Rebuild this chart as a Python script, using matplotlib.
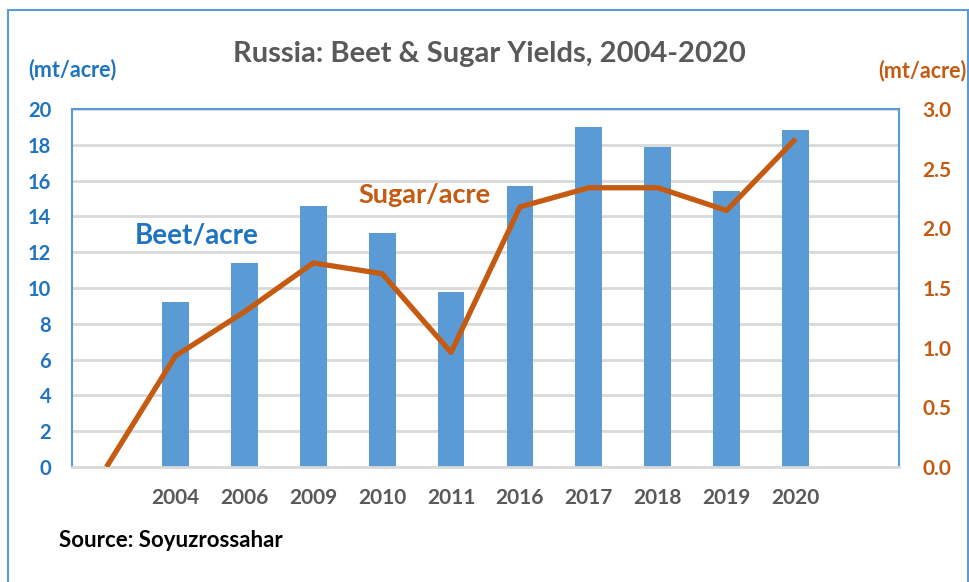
import matplotlib
matplotlib.use("Agg")
import matplotlib.pyplot as plt
from matplotlib.transforms import Bbox
import numpy as np

categories = ["", "2004", "2006", "2009", "2010", "2011", "2016", "2017", "2018", "2019", "2020", ""]
beet_per_acre = [np.nan, 9.2, 11.4, 14.6, 13.05, 9.75, 15.7, 19.0, 17.85, 15.4, 18.8, np.nan]
sugar_per_acre = [0.0, 0.93, 1.30, 1.71, 1.62, 0.96, 2.18, 2.34, 2.34, 2.15, 2.75, np.nan]
left_ticks = [0, 2, 4, 6, 8, 10, 12, 14, 16, 18, 20]
right_ticks = [0.0, 0.5, 1.0, 1.5, 2.0, 2.5, 3.0]

BLUE_BAR = "#5B9BD5"
BLUE_TXT = "#1F74C0"
ORANGE = "#C55A11"
GRAY_TXT = "#595959"
GRID = "#D9D9D9"
FONT = "Lato"

fig = plt.figure(figsize=(9.69, 5.82), dpi=100)
ax = fig.add_axes([72/969, 1-467/582, (899-72)/969, (467-109)/582])
x = np.arange(len(categories))

ax.bar(x, beet_per_acre, width=0.39, color=BLUE_BAR, zorder=2)
ax.set_xlim(-0.5, len(categories)-0.5)
ax.set_ylim(0, 20)
ax.set_yticks(left_ticks)
ax.set_yticklabels([str(t) for t in left_ticks], color=BLUE_TXT, fontsize=14.5,
                   fontweight="bold", family=FONT)
ax.set_xticks(x)
ax.set_xticklabels(categories, color=GRAY_TXT, fontsize=15, fontweight="bold", family=FONT)
ax.tick_params(axis="both", length=0)
ax.tick_params(axis="x", pad=15)
ax.tick_params(axis="y", pad=15)
ax.grid(axis="y", color=GRID, linewidth=2, zorder=0)
ax.set_axisbelow(True)
for s in ["left", "top", "right"]:
    ax.spines[s].set_color(BLUE_BAR)
    ax.spines[s].set_linewidth(1.5)
ax.spines["bottom"].set_color(GRID)
ax.spines["bottom"].set_linewidth(2)

ax2 = ax.twinx()
ax2.plot(x, sugar_per_acre, color=ORANGE, linewidth=3.8, solid_capstyle="butt", zorder=3)
ax2.set_ylim(0, 3.0)
ax2.set_yticks(right_ticks)
ax2.set_yticklabels([f"{t:.1f}" for t in right_ticks], color=ORANGE, fontsize=15,
                    fontweight="bold", family=FONT)
ax2.tick_params(axis="y", length=0, pad=17)
for s in ["left", "top", "right", "bottom"]:
    ax2.spines[s].set_visible(False)

# titles and labels
fig.text(489.5/969, 1-62/582, "Russia: Beet & Sugar Yields, 2004-2020", ha="center", va="baseline",
         color=GRAY_TXT, fontsize=21, fontweight="bold", family=FONT)
fig.text(28/969, 1-76/582, "(mt/acre)", ha="left", va="baseline", color=BLUE_TXT,
         fontsize=15.5, fontweight="bold", family=FONT)
rt = fig.text(878/969, 1-77/582, "(mt/acre)", ha="left", va="baseline", color=ORANGE,
              fontsize=15.5, fontweight="bold", family=FONT)
rt.set_clip_on(True)
rt.set_clip_box(Bbox.from_extents(0, 0, 966, 582))
fig.text(135/969, 1-243/582, "Beet/acre", ha="left", va="baseline", color=BLUE_TXT,
         fontsize=20, fontweight="bold", family=FONT)
fig.text(358/969, 1-203/582, "Sugar/acre", ha="left", va="baseline", color=ORANGE,
         fontsize=19.5, fontweight="bold", family=FONT)
fig.text(59/969, 1-547/582, "Source: Soyuzrossahar", ha="left", va="baseline", color="black",
         fontsize=16, fontweight="bold", family=FONT)

# outer frame (left, top, right)
frame_kw = dict(color=BLUE_BAR, linewidth=1.5, transform=fig.transFigure)
fig.add_artist(plt.Line2D([8/969, 8/969], [0, 1-10/582], **frame_kw))
fig.add_artist(plt.Line2D([8/969, 968/969], [1-10/582, 1-10/582], **frame_kw))
fig.add_artist(plt.Line2D([968/969, 968/969], [0, 1-10/582], **frame_kw))

fig.savefig("out.png", dpi=100)
